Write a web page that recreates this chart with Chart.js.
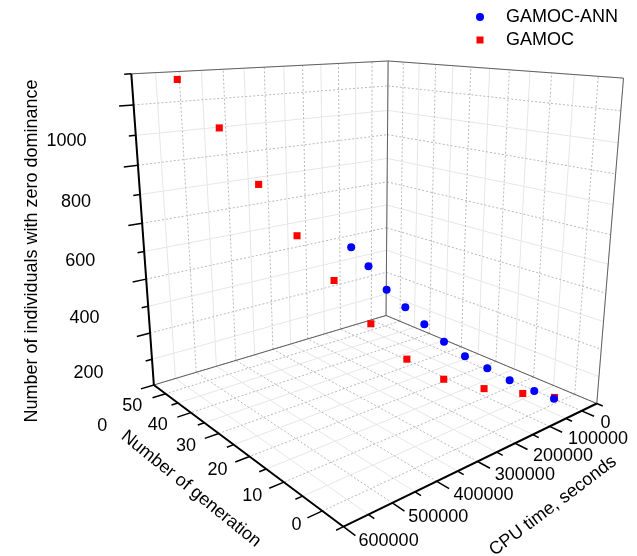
<!DOCTYPE html>
<html><head><meta charset="utf-8">
<script src="https://cdn.jsdelivr.net/npm/chart.js@4.4.0/dist/chart.umd.min.js"></script>
<style>html,body{margin:0;padding:0;background:#fff}#wrap{width:637px;height:556px;position:relative}</style>
</head><body><div id="wrap"><canvas id="c" width="637" height="556"></canvas></div>
<script>
// ---- data ----
const generations = [0,5,10,15,20,25,30,35,40,45,50];
const annCpu     = [19200,14200,29000,39400,52200,63100,72200,81000,90500,99900,108100];
const annCount   = [20,12,27,47,69,102,148,195,245,322,383];
const gamocCpu   = [17500,51000,108000,170600,223400,273800,324900,374800,425900,476800,532300];
const gamocCount = [24,22,36,70,139,263,414,567,740,926,1082];
const genTicks   = [0,10,20,30,40,50];
const cpuTicks   = [0,100000,200000,300000,400000,500000,600000];
const countTicks = [0,200,400,600,800,1000];

// ---- axis ranges of the 3D box ----
const CPU_RANGE=[-50000,600000], GEN_RANGE=[-5,55], Z_RANGE=[0,1100];
// calibration: normalized box corners -> screen position (layout of the perspective view)
const calib = [
 [[0,0,0],[601.7,405]], [[0,0,1],[628.3,75]], [[0,1,0],[386.7,316.7]], [[0,1,1],[389.3,56.7]],
 [[1,1,0],[151.7,386.7]], [[1,1,1],[128.3,70]], [[1,0,0],[343.3,531.7]]
];
function solve(M, rhs){const n=rhs.length;const A=M.map((r,i)=>[...r,rhs[i]]);
 for(let i=0;i<n;i++){let p=i;for(let k=i+1;k<n;k++)if(Math.abs(A[k][i])>Math.abs(A[p][i]))p=k;[A[i],A[p]]=[A[p],A[i]];
  for(let k=i+1;k<n;k++){const f=A[k][i]/A[i][i];for(let j=i;j<=n;j++)A[k][j]-=f*A[i][j];}}
 const x=new Array(n).fill(0);for(let i=n-1;i>=0;i--){let s=A[i][n];for(let j=i+1;j<n;j++)s-=A[i][j]*x[j];x[i]=s/A[i][i];}return x;}
const rows=[],rhs=[];
calib.forEach(([[X,Y,Z],[u,v]])=>{rows.push([X,Y,Z,1,0,0,0,0,-u*X,-u*Y,-u*Z]);rhs.push(u);
 rows.push([0,0,0,0,X,Y,Z,1,-v*X,-v*Y,-v*Z]);rhs.push(v);});
const AtA=[],Atb=[];for(let i=0;i<11;i++){AtA.push(new Array(11).fill(0));Atb.push(0);
 for(let r=0;r<rows.length;r++){Atb[i]+=rows[r][i]*rhs[r];for(let j=0;j<11;j++)AtA[i][j]+=rows[r][i]*rows[r][j];}}
const P=solve(AtA,Atb);
function projN(a,b,c){const w=P[8]*a+P[9]*b+P[10]*c+1;return {x:(P[0]*a+P[1]*b+P[2]*c+P[3])/w,y:(P[4]*a+P[5]*b+P[6]*c+P[7])/w};}
const nA=v=>(v-CPU_RANGE[0])/(CPU_RANGE[1]-CPU_RANGE[0]);
const nB=v=>(v-GEN_RANGE[0])/(GEN_RANGE[1]-GEN_RANGE[0]);
const nC=v=>(v-Z_RANGE[0])/(Z_RANGE[1]-Z_RANGE[0]);
function proj(cpu,gen,z){return projN(nA(cpu),nB(gen),nC(z));}

// ---- box, grid and tick geometry ----
const minor=[],major=[],frame=[],axes=[],ticks=[];
function seg(arr,p,q){arr.push(p,q,{x:null,y:null});}
const C0=CPU_RANGE[0],C1=CPU_RANGE[1],G0=GEN_RANGE[0],G1=GEN_RANGE[1],Z1=Z_RANGE[1];
for(let cpu=C0;cpu<=C1;cpu+=50000){const m=(cpu%100000===0)?major:minor;
 seg(m,proj(cpu,G0,0),proj(cpu,G1,0));seg(m,proj(cpu,G1,0),proj(cpu,G1,Z1));}
for(let g=G0;g<=G1;g+=5){const m=(g%10===0)?major:minor;
 seg(m,proj(C0,g,0),proj(C1,g,0));seg(m,proj(C0,g,0),proj(C0,g,Z1));}
for(let z=0;z<=Z1;z+=100){const m=(z%200===0)?major:minor;
 seg(m,proj(C1,G1,z),proj(C0,G1,z));seg(m,proj(C0,G1,z),proj(C0,G0,z));}
seg(frame,proj(C1,G1,Z1),proj(C0,G1,Z1));seg(frame,proj(C0,G1,Z1),proj(C0,G0,Z1));
seg(frame,proj(C0,G1,0),proj(C0,G1,Z1));seg(frame,proj(C0,G0,0),proj(C0,G0,Z1));
seg(frame,proj(C1,G1,0),proj(C0,G1,0));seg(frame,proj(C0,G1,0),proj(C0,G0,0));
seg(axes,proj(C1,G1,0),proj(C1,G1,Z1));seg(axes,proj(C1,G1,0),proj(C1,G0,0));seg(axes,proj(C1,G0,0),proj(C0,G0,0));
const dA=(C1-C0),dB=(G1-G0);
for(let z=0;z<=Z1;z+=100){const L=(z%200===0)?0.045:0.022;seg(ticks,proj(C1,G1,z),proj(C1+L*dA,G1,z));}
for(let g=G0;g<=G1;g+=5){const L=(g%10===0)?0.045:0.022;seg(ticks,proj(C1,g,0),proj(C1+L*dA,g,0));}
for(let c=C0;c<=C1;c+=50000){const L=(c%100000===0)?0.045:0.022;seg(ticks,proj(c,G0,0),proj(c,G0-L*dB,0));}

const lineDs=(data,color,w,dash,order)=>({data,showLine:true,spanGaps:false,pointRadius:0,borderColor:color,borderWidth:w,borderDash:dash,order,fill:false});
const FONT='"Liberation Sans", Arial, sans-serif';
const textPlugin={id:'txt',afterDraw(chart){const ctx=chart.ctx;ctx.save();ctx.fillStyle='#000';
 ctx.font='18px '+FONT;ctx.textBaseline='middle';
 ctx.textAlign='right';countTicks.forEach(z=>{const p=proj(C1,G1,z);ctx.fillText(String(z),p.x-44,p.y+39);});
 genTicks.forEach(g=>{const p=proj(C1,g,0);ctx.fillText(String(g),p.x-21,p.y+10);});
 ctx.textAlign='left';cpuTicks.forEach(c=>{const p=proj(c,G0,0);ctx.fillText(String(c),p.x+14.7,p.y+10);});
 ctx.textAlign='center';
 const rot=(t,x,y,ang)=>{ctx.save();ctx.translate(x,y);ctx.rotate(ang*Math.PI/180);ctx.fillText(t,0,0);ctx.restore();};
 rot('Number of individuals with zero dominance',32,251,-90);
 rot('Number of generation',191,489,39);
 rot('CPU time, seconds',553,506,-37);
 // legend
 const ds=chart.data.datasets;
 ctx.textAlign='left';ctx.fillText(ds[0].label,506,17);ctx.fillText(ds[1].label,506,40);
 ctx.fillStyle=ds[0].backgroundColor;ctx.beginPath();ctx.arc(480,17,4,0,Math.PI*2);ctx.fill();
 ctx.fillStyle=ds[1].backgroundColor;ctx.fillRect(476.5,36.5,7,7);
 ctx.restore();}};

new Chart(document.getElementById('c'),{type:'scatter',
 data:{datasets:[
  {label:'GAMOC-ANN',data:generations.map((g,i)=>proj(annCpu[i],g,annCount[i])),pointStyle:'circle',pointRadius:4,backgroundColor:'#0000ff',borderColor:'#0000ff',borderWidth:0,order:0},
  {label:'GAMOC',data:generations.map((g,i)=>proj(gamocCpu[i],g,gamocCount[i])),pointStyle:'rect',pointRadius:5,backgroundColor:'#ff0000',borderColor:'#ff0000',borderWidth:0,order:1},
  lineDs(ticks,'#000',1.5,[],2),lineDs(axes,'#000',2,[],3),lineDs(frame,'#606060',1,[],4),
  lineDs(major,'#b8b8b8',1,[2,2],5),lineDs(minor,'#e6e6e6',1,[],6)]},
 options:{responsive:false,animation:false,devicePixelRatio:1,layout:{padding:0},
  scales:{x:{type:'linear',min:0,max:637,display:false},y:{type:'linear',min:0,max:556,reverse:true,display:false}},
  plugins:{legend:{display:false},tooltip:{enabled:false}}},
 plugins:[textPlugin]});
</script></body></html>
